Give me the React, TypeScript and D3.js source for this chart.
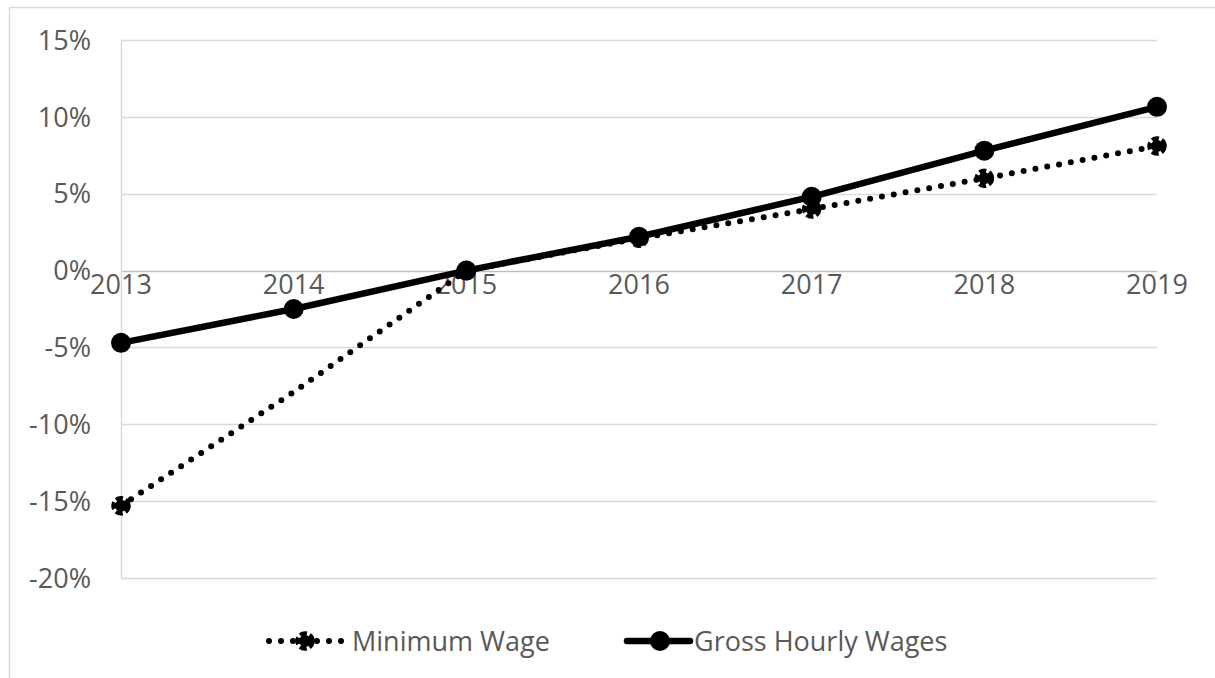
import React, { useEffect, useRef } from "react";
import * as d3 from "d3";

const years = ["2013", "2014", "2015", "2016", "2017", "2018", "2019"];
const minimumWage = [-15.3, -7.9, 0, 2.1, 4.0, 6.0, 8.1];
const grossHourly = [-4.7, -2.5, 0, 2.2, 4.8, 7.8, 10.65];
const yTicks = [15, 10, 5, 0, -5, -10, -15, -20];

const W = 1215;
const H = 678;

export default function App() {
  const ref = useRef<SVGSVGElement>(null);

  useEffect(() => {
    const svg = d3.select(ref.current);
    svg.selectAll("*").remove();

    const left = 121, right = 1157, top = 40, bottom = 578;
    const font = "'Open Sans', sans-serif";
    const fs = 27;
    const grey = "#595959";

    // outer chart border
    svg.append("path")
      .attr("d", `M9.5,${H} V7.5 H${W}`)
      .attr("fill", "none")
      .attr("stroke", "#d9d9d9")
      .attr("stroke-width", 1.5);

    const x = d3.scalePoint().domain(years).range([left, right]);
    const y = d3.scaleLinear().domain([-20, 15]).range([bottom, top]);

    // gridlines
    svg.append("g")
      .selectAll("line")
      .data(yTicks)
      .join("line")
      .attr("x1", left)
      .attr("x2", right)
      .attr("y1", (d) => Math.round(y(d)) + 0.5)
      .attr("y2", (d) => Math.round(y(d)) + 0.5)
      .attr("stroke", (d) => (d === 0 ? "#bfbfbf" : "#d9d9d9"))
      .attr("stroke-width", 1.5);

    // vertical axis line
    svg.append("line")
      .attr("x1", left + 0.5).attr("x2", left + 0.5)
      .attr("y1", top).attr("y2", bottom)
      .attr("stroke", "#d9d9d9").attr("stroke-width", 1.5);

    // y tick labels
    svg.append("g")
      .selectAll("text")
      .data(yTicks)
      .join("text")
      .attr("x", 91)
      .attr("y", (d) => y(d))
      .attr("dy", "0.36em")
      .attr("text-anchor", "end")
      .attr("font-family", font)
      .attr("font-size", fs)
      .attr("fill", grey)
      .text((d) => `${d}%`);

    // x labels at zero line
    svg.append("g")
      .selectAll("text")
      .data(years)
      .join("text")
      .attr("x", (d) => x(d)!)
      .attr("y", y(0) + 14)
      .attr("dy", "0.36em")
      .attr("text-anchor", "middle")
      .attr("font-family", font)
      .attr("font-size", fs)
      .attr("fill", grey)
      .text((d) => d);

    const line = d3.line<number>()
      .x((_, i) => x(years[i])!)
      .y((d) => y(d));

    // minimum wage dotted line
    svg.append("path")
      .datum(minimumWage)
      .attr("d", line)
      .attr("fill", "none")
      .attr("stroke", "#000")
      .attr("stroke-width", 6)
      .attr("stroke-linecap", "round")
      .attr("stroke-dasharray", "0 12");

    const dottedMarker = (g: d3.Selection<any, any, any, any>, cx: number, cy: number) => {
      g.append("circle")
        .attr("cx", cx).attr("cy", cy).attr("r", 6)
        .attr("fill", "#000");
      g.append("circle")
        .attr("cx", cx).attr("cy", cy).attr("r", 7.5)
        .attr("fill", "none")
        .attr("stroke", "#000")
        .attr("stroke-width", 4.5)
        .attr("stroke-dasharray", "7 3");
    };

    const mg = svg.append("g");
    minimumWage.forEach((d, i) => {
      if (i === 1) return;
      dottedMarker(mg, x(years[i])!, y(d));
    });

    // gross hourly wages solid line
    svg.append("path")
      .datum(grossHourly)
      .attr("d", line)
      .attr("fill", "none")
      .attr("stroke", "#000")
      .attr("stroke-width", 6.5)
      .attr("stroke-linejoin", "round");

    svg.append("g")
      .selectAll("circle")
      .data(grossHourly)
      .join("circle")
      .attr("cx", (_, i) => x(years[i])!)
      .attr("cy", (d) => y(d))
      .attr("r", 10)
      .attr("fill", "#000");

    // legend
    const ly = 641;
    const lg = svg.append("g");
    lg.append("line")
      .attr("x1", 269).attr("x2", 345)
      .attr("y1", ly).attr("y2", ly)
      .attr("stroke", "#000")
      .attr("stroke-width", 6)
      .attr("stroke-linecap", "round")
      .attr("stroke-dasharray", "0 12");
    dottedMarker(lg, 305, ly);
    lg.append("text")
      .attr("x", 352).attr("y", ly).attr("dy", "0.36em")
      .attr("font-family", font).attr("font-size", fs).attr("fill", grey)
      .text("Minimum Wage");

    lg.append("line")
      .attr("x1", 627).attr("x2", 690)
      .attr("y1", ly).attr("y2", ly)
      .attr("stroke", "#000")
      .attr("stroke-width", 6.5)
      .attr("stroke-linecap", "round");
    lg.append("circle")
      .attr("cx", 660).attr("cy", ly).attr("r", 10).attr("fill", "#000");
    lg.append("text")
      .attr("x", 694).attr("y", ly).attr("dy", "0.36em")
      .attr("font-family", font).attr("font-size", fs).attr("fill", grey)
      .text("Gross Hourly Wages");
  }, []);

  return (
    <svg
      ref={ref}
      width={W}
      height={H}
      style={{ position: "absolute", left: 0, top: 0, background: "#fff" }}
    />
  );
}
